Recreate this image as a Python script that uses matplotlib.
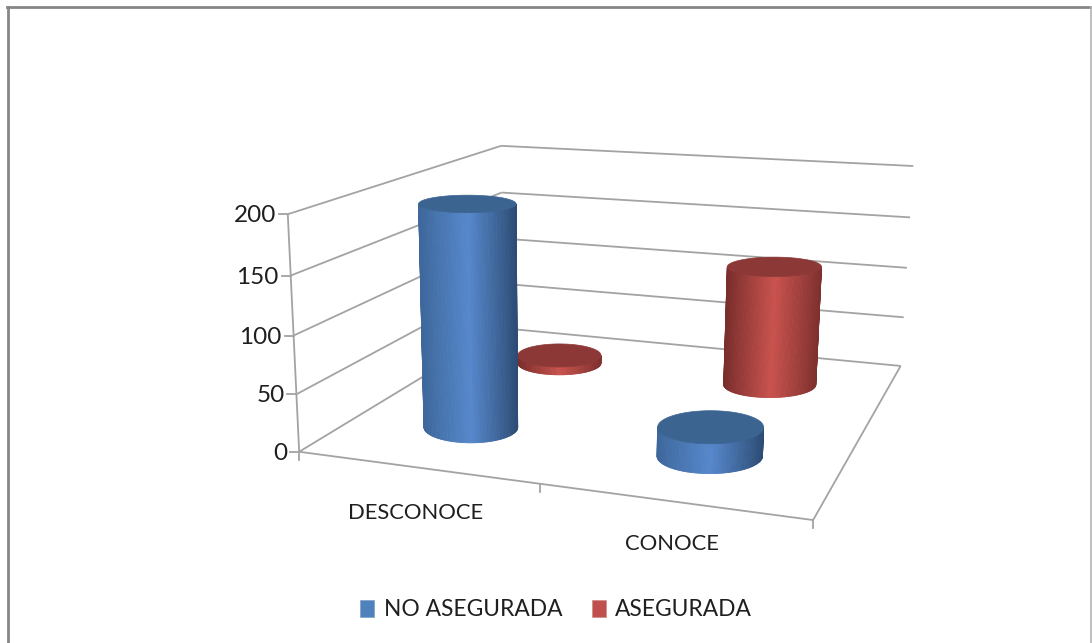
import numpy as np
import matplotlib
matplotlib.use("Agg")
import matplotlib.pyplot as plt
from matplotlib.collections import PolyCollection
from matplotlib.patches import Patch, Polygon

plt.rcParams['font.family'] = ['Lato', 'DejaVu Sans']

# data
categories = ["DESCONOCE", "CONOCE"]
series_names = ["NO ASEGURADA", "ASEGURADA"]
no_asegurada = [197, 25]
asegurada = [8, 115]
y_ticks = [0, 50, 100, 150, 200]
y_max = 200

# box corners (x, depth, z) and where they land in the picture, for the camera
box = np.array([[0, 0, 0], [1, 0, 0], [1, 1, 0], [0, 1, 0],
                [0, 0, 1], [1, 1, 1], [0, 1, 1]], float)
pix = np.array([[300, 452], [813, 520], [901, 366], [502, 328],
                [287, 214], [913, 166], [502, 146]], float)

A, b = [], []
for (X, Y, Z), (u, v) in zip(box, pix):
    A.append([X, Y, Z, 1, 0, 0, 0, 0, -u * X, -u * Y, -u * Z])
    A.append([0, 0, 0, 0, X, Y, Z, 1, -v * X, -v * Y, -v * Z])
    b += [u, v]
sol = np.linalg.lstsq(np.array(A), np.array(b), rcond=None)[0]
P = np.append(sol, 1).reshape(3, 4)


def project(x, y, z):
    x, y, z = np.broadcast_arrays(np.asarray(x, float), np.asarray(y, float), np.asarray(z, float))
    h = P @ np.stack([x, y, z, np.ones_like(x)])
    return h[0] / h[2], h[1] / h[2]


def line3d(ax, p0, p1, color="#a3a3a3", lw=1.3):
    xs, ys = project([p0[0], p1[0]], [p0[1], p1[1]], [p0[2], p1[2]])
    ax.plot(xs, ys, color=color, lw=lw, solid_capstyle="butt", zorder=1)


def ring(xc, yc, z, rx, ry):
    # the ellipses stay level on screen, only their size follows the camera
    cx, cy = project(xc, yc, z)
    a = (project(xc + rx, yc, z)[0] - project(xc - rx, yc, z)[0]) / 2
    c = (project(xc, yc - ry, z)[1] - project(xc, yc + ry, z)[1]) / 2
    return float(cx), float(cy), float(a), float(c)


def cylinder(ax, xc, yc, value, rx, ry, left, mid, right, cap, zo):
    z = value / y_max
    x0, y0, a0, c0 = ring(xc, yc, 0, rx, ry)
    x1, y1, a1, c1 = ring(xc, yc, z, rx, ry)
    th = np.linspace(0, np.pi, 81)  # front half only
    polys, cols = [], []
    for t0, t1 in zip(th[:-1], th[1:]):
        u = [x0 + a0 * np.cos(t0), x0 + a0 * np.cos(t1), x1 + a1 * np.cos(t1), x1 + a1 * np.cos(t0)]
        v = [y0 + c0 * np.sin(t0), y0 + c0 * np.sin(t1), y1 + c1 * np.sin(t1), y1 + c1 * np.sin(t0)]
        polys.append(np.column_stack([u, v]))
        t = (np.cos((t0 + t1) / 2) + 1) / 2
        c = [np.interp(t, [0, 0.5, 1], [left[k], mid[k], right[k]]) / 255 for k in range(3)]
        cols.append(c)
    ax.add_collection(PolyCollection(polys, facecolors=cols, edgecolors=cols, linewidths=0.6, zorder=zo))
    tt = np.linspace(0, 2 * np.pi, 121)
    ax.add_patch(Polygon(np.column_stack([x1 + a1 * np.cos(tt), y1 + c1 * np.sin(tt)]), closed=True,
                         facecolor=cap, edgecolor=cap, lw=0.5, zorder=zo + 0.5))


fig = plt.figure(figsize=(10.92, 6.43), dpi=100)
ax = fig.add_axes([0, 0, 1, 1])
ax.set_xlim(0, 1092)
ax.set_ylim(643, 0)
ax.axis("off")

# outer chart frame
ax.plot([7.5, 7.5], [643, 7], color="#868686", lw=2, zorder=0)
ax.plot([6.5, 1091], [7, 7], color="#868686", lw=2, zorder=0)
ax.plot([1091, 1091], [7, 643], color="#b4b4b4", lw=1.2, zorder=0)

# walls and floor
for v in y_ticks:
    z = v / y_max
    line3d(ax, (0, 0, z), (0, 1, z))
    line3d(ax, (0, 1, z), (1, 1, z))
    u, w = project(0, 0, z)
    ax.plot([u - 9, u], [w, w], color="#a3a3a3", lw=1.3, zorder=1)
    ax.text(u - 12, w + 1.5, str(v), ha="right", va="center", fontsize=17.5, color="#1f1f1f")
line3d(ax, (0, 0, 0), (0, 0, 1))
line3d(ax, (0, 0, 0), (1, 0, 0))
line3d(ax, (1, 0, 0), (1, 1, 0))

# category ticks
for x0 in [0, 0.5, 1]:
    u, w = project(x0, 0, 0)
    ax.plot([u, u], [w, w + 8], color="#a3a3a3", lw=1.3, zorder=1)

# category labels
label_drop = [46, 43]
for i, name in enumerate(categories):
    u, w = project((i + 0.5) / 2, 0, 0)
    ax.text(u, w + label_drop[i], name, ha="center", va="center", fontsize=15.8, color="#1f1f1f")

# cylinders, back row first
x_pos = [0.25, 0.75]
rx, ry = 0.104, 0.105
blue = dict(left=(62, 104, 156), mid=(86, 136, 204), right=(44, 76, 116), cap="#3c6491")
red = dict(left=(122, 46, 44), mid=(201, 82, 77), right=(126, 48, 46), cap="#8c3836")
for i in range(2):
    cylinder(ax, x_pos[i], 0.75, asegurada[i], rx, ry, zo=3 + i, **red)
for i in range(2):
    cylinder(ax, x_pos[i], 0.25, no_asegurada[i], rx, ry, zo=6 + i, **blue)

# legend
handles = [Patch(facecolor="#4f81bd", edgecolor="#7f9fc8", lw=0.5, label=series_names[0]),
           Patch(facecolor="#c0504d", edgecolor="#d08a88", lw=0.5, label=series_names[1])]
leg = ax.legend(handles=handles, ncol=2, loc="center", bbox_to_anchor=(556 / 1092, 1 - 610 / 643),
                bbox_transform=fig.transFigure, frameon=False, fontsize=16.4, handlelength=0.62,
                handleheight=0.72, handletextpad=0.4, columnspacing=1.3, labelcolor="#1f1f1f")

fig.savefig("out.png", dpi=100, facecolor="white")
